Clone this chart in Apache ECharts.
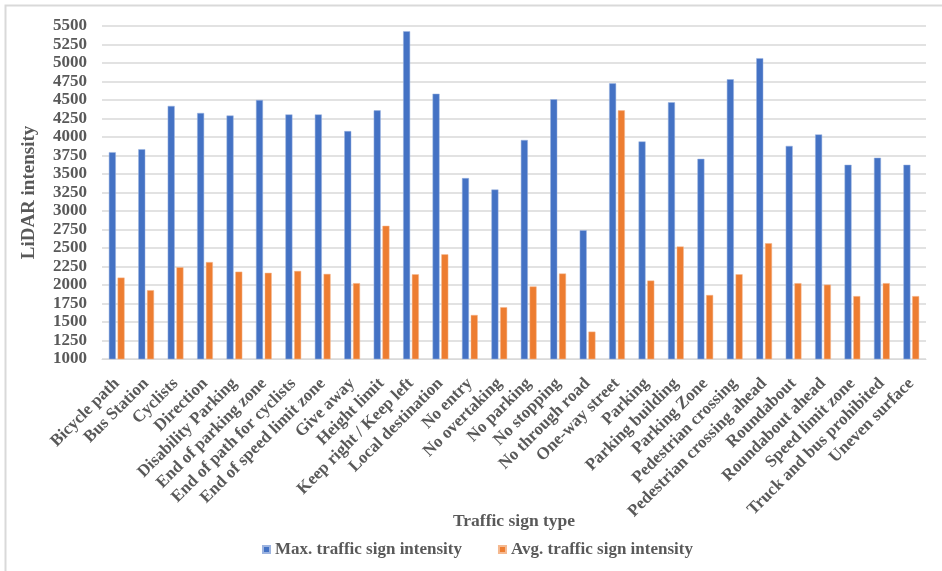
<!DOCTYPE html>
<html>
<head>
<meta charset="utf-8">
<script src="https://cdn.jsdelivr.net/npm/echarts@6/dist/echarts.min.js"></script>
<style>
  html, body { margin: 0; padding: 0; background: #ffffff; }
  #chart { width: 942px; height: 571px; }
</style>
</head>
<body>
<div id="chart"></div>
<script>
// Traffic sign categories
const signTypes = [
  'Bicycle path', 'Bus Station', 'Cyclists', 'Direction', 'Disability Parking',
  'End of parking zone', 'End of path for cyclists', 'End of speed limit zone',
  'Give away', 'Height limit', 'Keep right / Keep left', 'Local destination',
  'No entry', 'No overtaking', 'No parking', 'No stopping', 'No through road',
  'One-way street', 'Parking', 'Parking building', 'Parking Zone',
  'Pedestrian crossing', 'Pedestrian crossing ahead', 'Roundabout',
  'Roundabout ahead', 'Speed limit zone', 'Truck and bus prohibited', 'Uneven surface'
];

// Maximum LiDAR intensity per sign type
const maxIntensity = [
  3795, 3835, 4420, 4325, 4290, 4500, 4305, 4305, 4080, 4360, 5430, 4585,
  3445, 3290, 3960, 4510, 2740, 4725, 3940, 4470, 3705, 4780, 5065, 3880,
  4035, 3625, 3720, 3625
];

// Average LiDAR intensity per sign type
const avgIntensity = [
  2100, 1930, 2240, 2310, 2180, 2165, 2190, 2150, 2025, 2800, 2145, 2415,
  1595, 1700, 1980, 2155, 1370, 4360, 2060, 2520, 1865, 2145, 2565, 2025,
  2005, 1850, 2025, 1850
];

const seriesNames = ['Max. traffic sign intensity', 'Avg. traffic sign intensity'];

const serif = '"Liberation Serif", "Times New Roman", serif';
const textGrey = '#595959';

const chart = echarts.init(document.getElementById('chart'), null, { renderer: 'canvas' });

chart.setOption({
  backgroundColor: '#ffffff',
  animation: false,
  graphic: [{
    type: 'rect',
    shape: { x: 5.5, y: 5.5, width: 960, height: 600 },
    style: { fill: 'none', stroke: '#d9d9d9', lineWidth: 2 },
    silent: true
  }],
  grid: { left: 102, right: 16, top: 26, bottom: 212 },
  legend: {
    data: seriesNames,
    left: 257,
    top: 536,
    icon: 'rect',
    itemWidth: 7,
    itemHeight: 7,
    itemGap: 36,
    textStyle: { fontFamily: serif, fontWeight: 'bold', fontSize: 17, color: textGrey }
  },
  xAxis: {
    type: 'category',
    data: signTypes,
    name: 'Traffic sign type',
    nameLocation: 'middle',
    nameGap: 153,
    nameMoveOverlap: false,
    nameTextStyle: { fontFamily: serif, fontWeight: 'bold', fontSize: 17.5, color: textGrey },
    axisLine: { lineStyle: { color: '#d9d9d9', width: 1 } },
    axisTick: { show: false },
    axisLabel: {
      interval: 0,
      rotate: 45,
      margin: 22,
      fontFamily: serif,
      fontWeight: 'bold',
      fontSize: 17,
      color: textGrey
    }
  },
  yAxis: {
    type: 'value',
    min: 1000,
    max: 5500,
    interval: 250,
    name: 'LiDAR intensity',
    nameLocation: 'middle',
    nameGap: 63,
    nameRotate: 90,
    nameMoveOverlap: false,
    nameTextStyle: { fontFamily: serif, fontWeight: 'bold', fontSize: 19, color: textGrey },
    axisLine: { show: false },
    axisTick: { show: false },
    axisLabel: {
      margin: 15,
      fontFamily: serif,
      fontWeight: 'bold',
      fontSize: 17,
      color: textGrey,
      formatter: (v) => String(v)
    },
    splitLine: { lineStyle: { color: '#d9d9d9', width: 1.5 } }
  },
  series: [
    {
      name: seriesNames[0],
      type: 'bar',
      data: maxIntensity,
      barWidth: 7,
      barGap: '25%',
      itemStyle: { color: '#4472C4', borderColor: '#9db4e0', borderWidth: 0.5 }
    },
    {
      name: seriesNames[1],
      type: 'bar',
      data: avgIntensity,
      barWidth: 7,
      barGap: '25%',
      itemStyle: { color: '#ED7D31', borderColor: '#f5b990', borderWidth: 0.5 }
    }
  ]
});
</script>
</body>
</html>
